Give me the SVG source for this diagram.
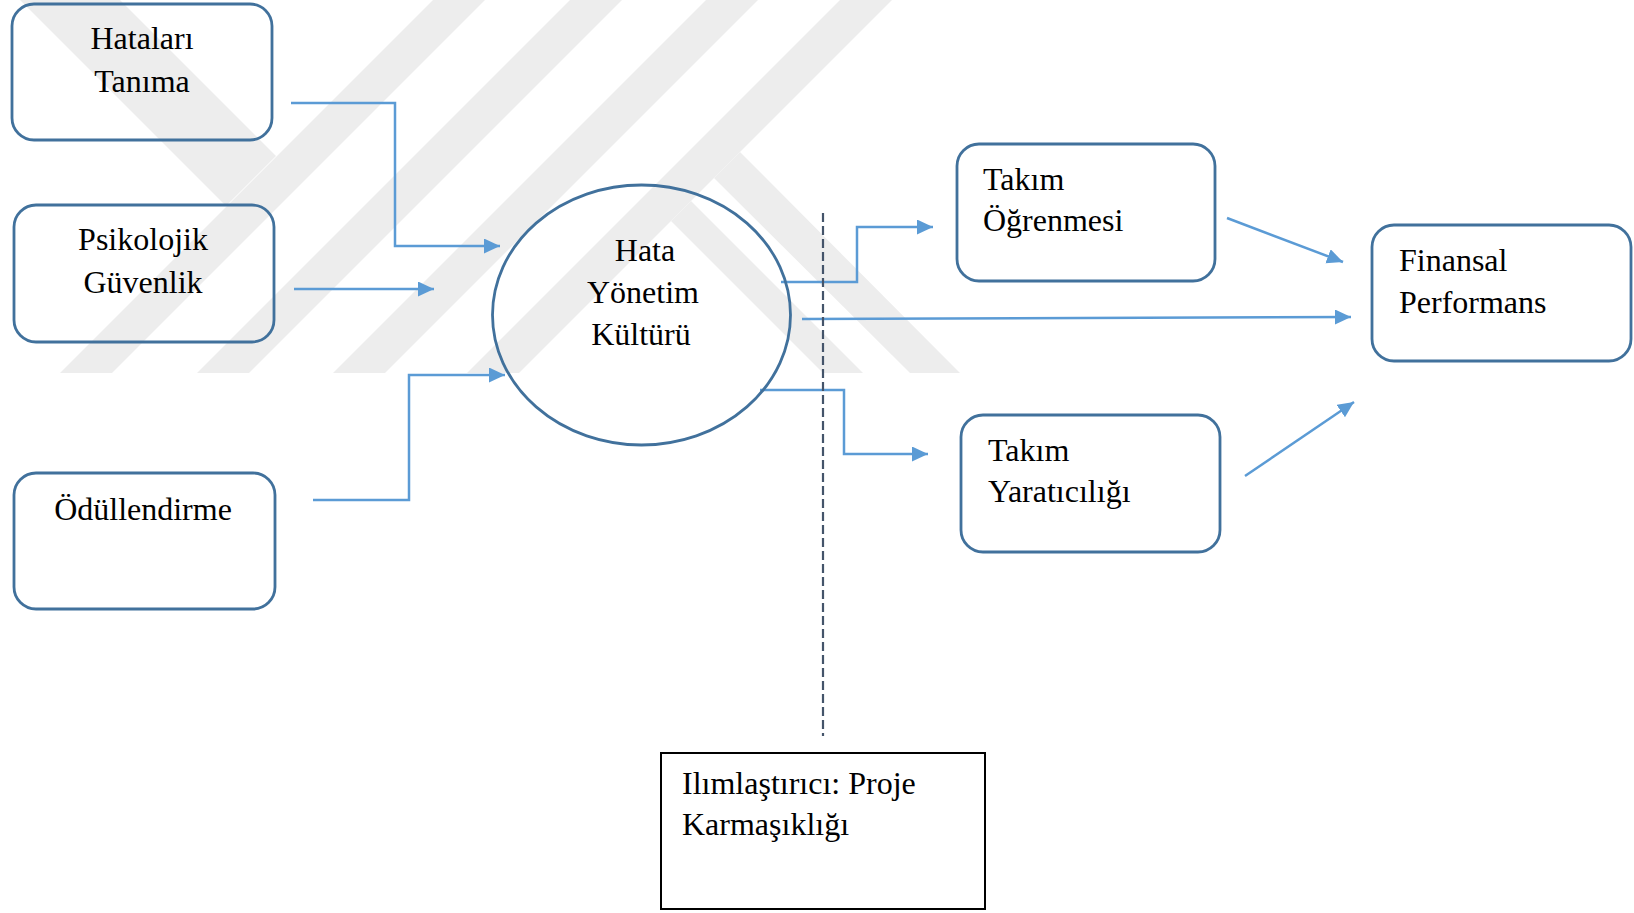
<svg xmlns="http://www.w3.org/2000/svg" width="1634" height="913" viewBox="0 0 1634 913">
<style>
.wm{fill:#ededed;stroke:none}
.box{fill:none;stroke:#41719c;stroke-width:2.8}
.mod{fill:none;stroke:#000;stroke-width:2}
.lbl{font-family:"Liberation Serif","Times New Roman",serif;font-size:32px;fill:#000}
.mid{text-anchor:middle}
.con{fill:none;stroke:#5b9bd5;stroke-width:2.5}
.dash{fill:none;stroke:#44546a;stroke-width:2.2;stroke-dasharray:9,4}
</style>
<defs>
<marker id="ah" markerUnits="userSpaceOnUse" markerWidth="18" markerHeight="16" refX="16" refY="7.5" orient="auto">
<path d="M0,0 L16,7.5 L0,15 Z" fill="#5b9bd5"/>
</marker>
</defs>
<rect width="1634" height="913" fill="#fff"/>
<g id="watermark">
<polygon class="wm" points="60,373 112,373 485,0 433,0"/>
<polygon class="wm" points="197,373 249,373 622,0 570,0"/>
<polygon class="wm" points="333,373 385,373 758,0 706,0"/>
<polygon class="wm" points="467,373 519,373 892,0 840,0"/>
<polygon class="wm" points="20,0 120,0 276,156 226,206"/>
<polygon class="wm" points="740,152 960,373 910,373 714,178"/>
<polygon class="wm" points="691,201 863,373 823,373 671,221"/>
</g>
<g id="connectors">
<path class="con" d="M291,103 H395 V246 H500" marker-end="url(#ah)"/>
<path class="con" d="M294,289 H434" marker-end="url(#ah)"/>
<path class="con" d="M313,500 H409 V375 H505" marker-end="url(#ah)"/>
<path class="con" d="M781,282 H857 V227 H933" marker-end="url(#ah)"/>
<path class="con" d="M802,319 L1351,317" marker-end="url(#ah)"/>
<path class="con" d="M760,390 H844 V454 H928" marker-end="url(#ah)"/>
<path class="con" d="M1227,218 L1343,262" marker-end="url(#ah)"/>
<path class="con" d="M1245,476 L1354,402" marker-end="url(#ah)"/>
<line class="dash" x1="823" y1="213" x2="823" y2="736"/>
</g>
<g id="n-hatalari">
<rect class="box" x="12" y="4" width="260" height="136" rx="22"/>
<text class="lbl mid" x="142" y="49">Hataları</text>
<text class="lbl mid" x="142" y="92">Tanıma</text>
</g>
<g id="n-psikolojik">
<rect class="box" x="14" y="205" width="260" height="137" rx="22"/>
<text class="lbl mid" x="143" y="250">Psikolojik</text>
<text class="lbl mid" x="143" y="293">Güvenlik</text>
</g>
<g id="n-odul">
<rect class="box" x="14" y="473" width="261" height="136" rx="22"/>
<text class="lbl mid" x="143" y="520">Ödüllendirme</text>
</g>
<g id="n-hata">
<ellipse class="box" cx="641.5" cy="315" rx="149" ry="130"/>
<text class="lbl mid" x="645" y="261">Hata</text>
<text class="lbl mid" x="643" y="303">Yönetim</text>
<text class="lbl mid" x="641" y="345">Kültürü</text>
</g>
<g id="n-ogrenme">
<rect class="box" x="957" y="144" width="258" height="137" rx="22"/>
<text class="lbl" x="983" y="190">Takım</text>
<text class="lbl" x="983" y="231">Öğrenmesi</text>
</g>
<g id="n-finansal">
<rect class="box" x="1372" y="225" width="259" height="136" rx="22"/>
<text class="lbl" x="1399" y="271">Finansal</text>
<text class="lbl" x="1399" y="313">Performans</text>
</g>
<g id="n-yaraticilik">
<rect class="box" x="961" y="415" width="259" height="137" rx="22"/>
<text class="lbl" x="988" y="461">Takım</text>
<text class="lbl" x="988" y="502">Yaratıcılığı</text>
</g>
<g id="n-moderator">
<rect class="mod" x="661" y="753" width="324" height="156"/>
<text class="lbl" x="682" y="794">Ilımlaştırıcı: Proje</text>
<text class="lbl" x="682" y="835">Karmaşıklığı</text>
</g>
</svg>
